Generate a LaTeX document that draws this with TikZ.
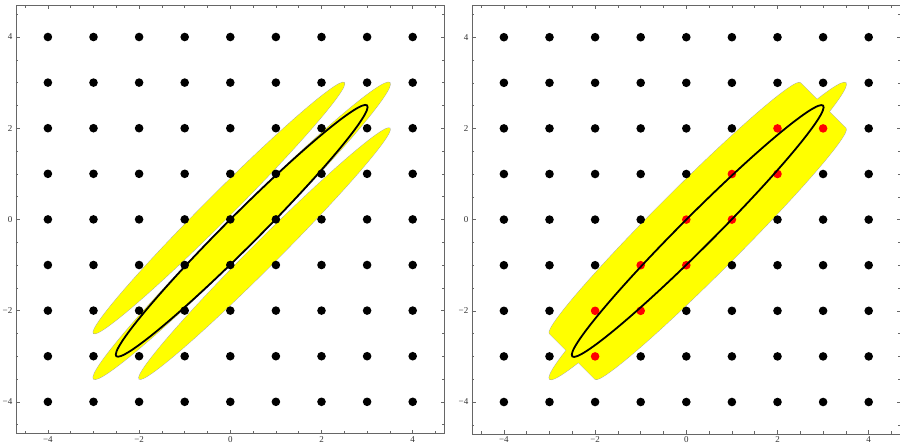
\documentclass[tikz,border=0pt]{standalone}
\usepackage{fontspec}
\setmainfont{Liberation Serif}
\definecolor{yelc}{RGB}{255,255,0}
\definecolor{redc}{RGB}{255,0,0}
\begin{document}
\begin{tikzpicture}[x=1pt,y=1pt,
  yeledge/.style={draw=black!35, line width=0.8pt},
  yel/.style={fill=yelc},
  frm/.style={draw=black!60, line width=0.6pt},
  ticklab/.style={font=\fontsize{9}{10}\selectfont, text=black!80, inner sep=0pt},
  blackell/.style={draw=black, line width=1.8pt}]
\useasboundingbox (0,0) rectangle (900,-445);
\fill[white] (0,0) rectangle (900,-445);

% ---------------- LEFT PANEL ----------------
\begin{scope}[shift={(230.3pt,-219.4pt)}, x=45.6pt, y=45.6pt]
  \begin{scope}[rotate=45]
    \draw[yeledge] (0,0.35355) ellipse [x radius=3.8891, y radius=0.283];
    \draw[yeledge] (0,-1.06066) ellipse [x radius=3.8891, y radius=0.283];
    \draw[yeledge] (0,-0.35355) ellipse [x radius=4.5962, y radius=0.354];
    \fill[yel] (0,0.35355) ellipse [x radius=3.8891, y radius=0.283];
    \fill[yel] (0,-1.06066) ellipse [x radius=3.8891, y radius=0.283];
    \fill[yel] (0,-0.35355) ellipse [x radius=4.5962, y radius=0.354];
  \end{scope}
  \foreach \i in {-4,...,4} \foreach \j in {-4,...,4}
    \fill[black] (\i,\j) circle[radius=4.3pt];
  \draw[blackell, rotate=45] (0,-0.35355) ellipse [x radius=3.8891, y radius=0.3536];
  % frame
  \draw[frm] (-4.7,-4.7) rectangle (4.7,4.7);
  \foreach \t/\l in {-4/−4,-2/−2,0/0,2/2,4/4} {
    \draw[frm] (\t,-4.7) -- ++(0,4pt);
    \draw[frm] (\t,4.7) -- ++(0,-4pt);
    \draw[frm] (-4.7,\t) -- ++(4pt,0);
    \draw[frm] (4.7,\t) -- ++(-4pt,0);
    \node[ticklab, below=2.5pt] (Lbx\t) at (\t,-4.7) {\l};
    \node[ticklab, left=3.5pt] (Lly\t) at (-4.7,\t) {\l};
  }
  \foreach \t in {-4.5,-3.5,-3,-2.5,-1.5,-1,-0.5,0.5,1,1.5,2.5,3,3.5,4.5} {
    \draw[frm] (\t,-4.7) -- ++(0,2.5pt);
    \draw[frm] (\t,4.7) -- ++(0,-2.5pt);
    \draw[frm] (-4.7,\t) -- ++(2.5pt,0);
    \draw[frm] (4.7,\t) -- ++(-2.5pt,0);
  }
\end{scope}

% ---------------- RIGHT PANEL ----------------
\begin{scope}[shift={(686.3pt,-219.6pt)}, x=45.6pt, y=45.6pt]
  \begin{scope}[rotate=45]
    \draw[yeledge] (3.8891,0.35355) arc[start angle=0, end angle=180, x radius=3.8891, y radius=0.283]
      -- (-3.8891,-1.06066) arc[start angle=180, end angle=360, x radius=3.8891, y radius=0.283] -- cycle;
    \draw[yeledge] (0,-0.35355) ellipse [x radius=4.5962, y radius=0.354];
    \fill[yel] (3.8891,0.35355) arc[start angle=0, end angle=180, x radius=3.8891, y radius=0.283]
      -- (-3.8891,-1.06066) arc[start angle=180, end angle=360, x radius=3.8891, y radius=0.283] -- cycle;
    \fill[yel] (0,-0.35355) ellipse [x radius=4.5962, y radius=0.354];
  \end{scope}
  \foreach \i in {-4,...,4} \foreach \j in {-4,...,4} {
    \pgfmathtruncatemacro\isred{((\j==\i)&&(\i>=-2)&&(\i<=2)) || ((\j==\i-1)&&(\i>=-2)&&(\i<=3))}
    \ifnum\isred=1 \def\dc{redc}\else\def\dc{black}\fi
    \fill[\dc] (\i,\j) circle[radius=4.3pt];
  }
  \draw[blackell, rotate=45] (0,-0.35355) ellipse [x radius=3.8891, y radius=0.3536];
  % frame
  \draw[frm] (-4.7,-4.7) rectangle (4.7,4.7);
  \foreach \t/\l in {-4/−4,-2/−2,0/0,2/2,4/4} {
    \draw[frm] (\t,-4.7) -- ++(0,4pt);
    \draw[frm] (\t,4.7) -- ++(0,-4pt);
    \draw[frm] (-4.7,\t) -- ++(4pt,0);
    \draw[frm] (4.7,\t) -- ++(-4pt,0);
    \node[ticklab, below=2.5pt] (Rbx\t) at (\t,-4.7) {\l};
    \node[ticklab, left=3.5pt] (Rly\t) at (-4.7,\t) {\l};
  }
  \foreach \t in {-4.5,-3.5,-3,-2.5,-1.5,-1,-0.5,0.5,1,1.5,2.5,3,3.5,4.5} {
    \draw[frm] (\t,-4.7) -- ++(0,2.5pt);
    \draw[frm] (\t,4.7) -- ++(0,-2.5pt);
    \draw[frm] (-4.7,\t) -- ++(2.5pt,0);
    \draw[frm] (4.7,\t) -- ++(-2.5pt,0);
  }
\end{scope}
\end{tikzpicture}
\end{document}
